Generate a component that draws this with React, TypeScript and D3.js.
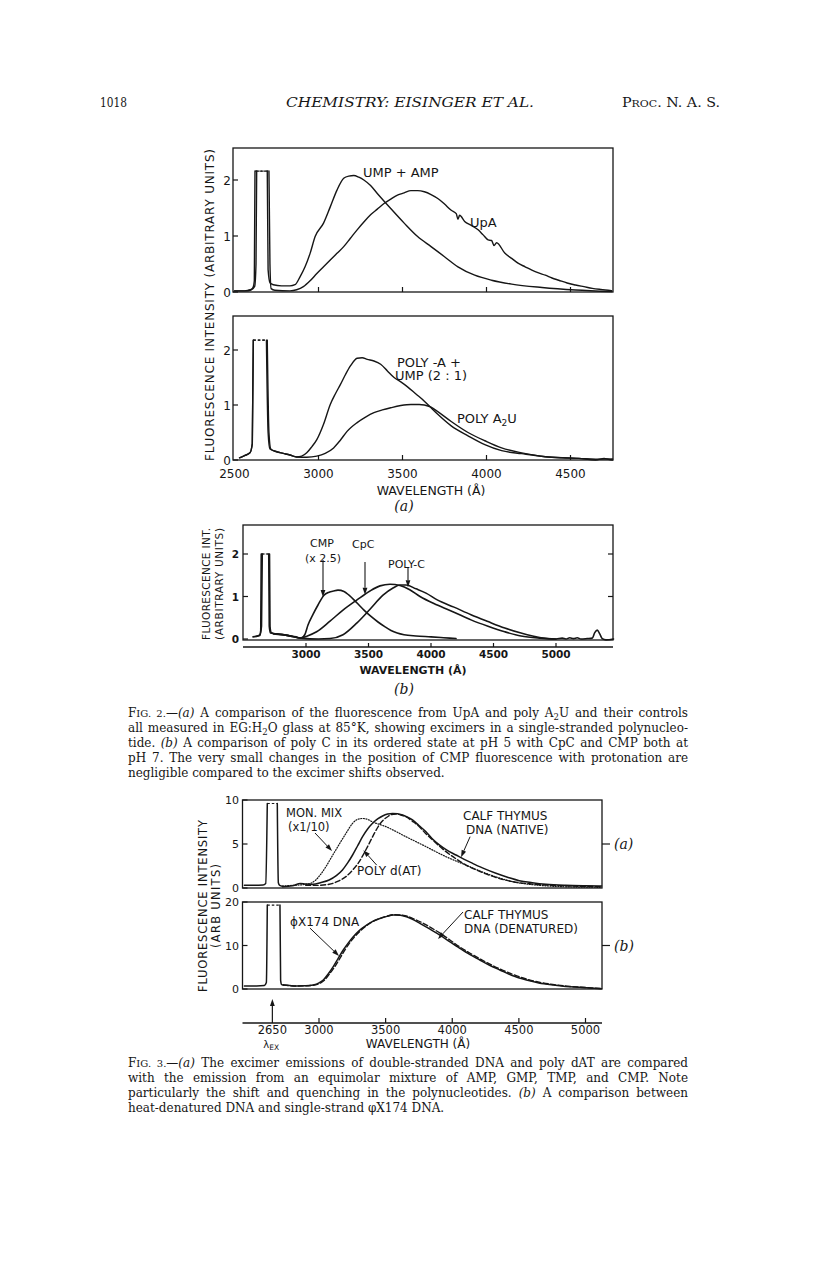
import React, { useLayoutEffect, useRef } from "react";
import * as d3 from "d3";

// ---------------- data (wavelength in Å, intensity in arbitrary units) ----------------
const G = NaN; // break: off-scale excitation peak (drawn with a dashed top)

// Fig. 2(a) upper panel
const umpAmpWl = [2500, 2560, 2595, 2610, 2618, 2622, G, 2695, 2700, 2712, 2731, 2780, 2830, 2860, 2890, 2920, 2950, 2980, 3030, 3070, 3110, 3150, 3180, 3210, 3240, 3270, 3310, 3350, 3430, 3510, 3590, 3670, 3750, 3830, 3930, 4030, 4150, 4330, 4530, 4745];
const umpAmpI = [0.02, 0.02, 0.04, 0.08, 0.2, 2.16, G, 2.16, 0.4, 0.16, 0.13, 0.11, 0.11, 0.13, 0.27, 0.45, 0.69, 0.99, 1.23, 1.52, 1.82, 2.03, 2.07, 2.08, 2.05, 2.0, 1.9, 1.76, 1.49, 1.23, 0.99, 0.81, 0.63, 0.45, 0.3, 0.21, 0.14, 0.08, 0.035, 0.006];
const upaWl = [2500, 2570, 2600, 2620, 2628, 2632, G, 2705, 2711, 2718, 2740, 2830, 2870, 2910, 2950, 2990, 3030, 3070, 3110, 3150, 3190, 3230, 3270, 3310, 3350, 3390, 3430, 3470, 3510, 3550, 3590, 3630, 3670, 3710, 3750, 3790, 3820, 3830, 3840, 3870, 3910, 3950, 3980, 4010, 4030, 4045, 4060, 4110, 4150, 4190, 4230, 4270, 4310, 4350, 4390, 4430, 4480, 4530, 4580, 4630, 4680, 4745];
const upaI = [0.02, 0.02, 0.04, 0.1, 0.5, 2.16, G, 2.16, 0.5, 0.06, 0.03, 0.02, 0.04, 0.095, 0.2, 0.33, 0.45, 0.57, 0.69, 0.81, 0.96, 1.11, 1.25, 1.38, 1.48, 1.58, 1.66, 1.73, 1.77, 1.81, 1.81, 1.79, 1.74, 1.67, 1.57, 1.46, 1.4, 1.3, 1.37, 1.26, 1.19, 1.11, 1.02, 0.93, 0.92, 0.83, 0.88, 0.69, 0.6, 0.51, 0.45, 0.39, 0.34, 0.3, 0.25, 0.21, 0.16, 0.125, 0.095, 0.065, 0.045, 0.024];

// Fig. 2(a) lower panel
const polyAUmpWl = [2530, 2560, 2592, 2606, 2612, G, 2695, 2705, 2716, 2751, 2790, 2830, 2870, 2900, 2930, 2960, 2990, 3030, 3070, 3100, 3130, 3160, 3190, 3230, 3260, 3290, 3330, 3370, 3410, 3450, 3490, 3530, 3580, 3630, 3670, 3710, 3790, 3890, 3990, 4090, 4210, 4350, 4450, 4550, 4650, 4750];
const polyAUmpI = [0.04, 0.08, 0.13, 0.3, 2.18, G, 2.18, 0.5, 0.2, 0.15, 0.12, 0.09, 0.055, 0.07, 0.13, 0.24, 0.37, 0.65, 1.01, 1.2, 1.37, 1.55, 1.71, 1.85, 1.86, 1.83, 1.8, 1.74, 1.62, 1.5, 1.42, 1.33, 1.2, 1.07, 0.95, 0.83, 0.62, 0.44, 0.28, 0.17, 0.115, 0.06, 0.04, 0.03, 0.015, 0.02];
const polyA2uWl = [2530, 2560, 2592, 2606, 2612, G, 2690, 2700, 2711, 2751, 2790, 2830, 2870, 2930, 2990, 3040, 3090, 3130, 3170, 3230, 3280, 3330, 3380, 3430, 3490, 3550, 3600, 3630, 3670, 3710, 3790, 3890, 3990, 4090, 4210, 4350, 4450, 4550, 4650, 4700, 4730, 4750];
const polyA2uI = [0.04, 0.08, 0.13, 0.3, 2.18, G, 2.18, 0.5, 0.2, 0.15, 0.12, 0.09, 0.055, 0.05, 0.07, 0.12, 0.22, 0.36, 0.52, 0.68, 0.78, 0.86, 0.91, 0.95, 0.99, 1.01, 1.01, 1.0, 0.96, 0.88, 0.7, 0.5, 0.35, 0.22, 0.13, 0.06, 0.04, 0.03, 0.0, 0.03, 0.01, 0.0];

// Fig. 2(b)
const cmpWl = [2576, 2610, 2630, 2638, 2642, G, 2708, 2712, 2722, 2740, 2800, 2860, 2920, 2960, 2990, 3016, 3056, 3096, 3144, 3184, 3220, 3256, 3304, 3344, 3384, 3424, 3464, 3520, 3576, 3630, 3680, 3730, 3784, 3880, 4000, 4100, 4200];
const cmpI = [0.05, 0.07, 0.1, 0.2, 2.0, G, 2.0, 0.3, 0.15, 0.13, 0.11, 0.08, 0.05, 0.02, 0.1, 0.33, 0.58, 0.8, 1.03, 1.1, 1.13, 1.15, 1.12, 1.03, 0.92, 0.8, 0.68, 0.53, 0.4, 0.29, 0.2, 0.14, 0.1, 0.07, 0.05, 0.03, 0.01];
const cpcWl = [2600, 2630, 2644, 2650, G, 2702, 2706, 2716, 2760, 2860, 2960, 3000, 3085, 3192, 3296, 3408, 3512, 3592, 3672, 3752, 3830, 3912, 4050, 4184, 4320, 4456, 4590, 4720, 4880, 5000];
const cpcI = [0.06, 0.08, 0.3, 2.0, G, 2.0, 0.3, 0.14, 0.12, 0.08, 0.02, 0.06, 0.17, 0.42, 0.68, 0.92, 1.13, 1.25, 1.29, 1.26, 1.16, 1.0, 0.8, 0.63, 0.45, 0.3, 0.17, 0.07, 0.02, 0.0];
const polyCWl = [2740, 2860, 2960, 3100, 3192, 3296, 3408, 3512, 3616, 3696, 3752, 3800, 3880, 3960, 4050, 4184, 4320, 4456, 4590, 4720, 4880, 5000, 5050, 5080, 5110, 5140, 5170, 5200, 5250, 5290, 5310, 5330, 5350, 5370, 5400, 5460];
const polyCI = [0.12, 0.08, 0.02, 0.0, 0.01, 0.1, 0.38, 0.7, 1.03, 1.2, 1.27, 1.27, 1.18, 1.08, 0.92, 0.75, 0.57, 0.41, 0.26, 0.14, 0.03, 0.0, 0.02, 0.0, 0.03, 0.01, 0.03, 0.0, 0.01, 0.02, 0.15, 0.21, 0.12, 0.01, -0.02, 0.0];

// Fig. 3(a)
const excA3Wl = [2440, 2500, 2580, 2600, 2612, G, 2687, 2695, 2705, 2726];
const excA3I = [0.3, 0.3, 0.33, 0.5, 9.6, G, 9.6, 0.6, 0.3, 0.2];
const monMixWl = [2726, 2800, 2901, 2940, 2976, 3010, 3051, 3090, 3126, 3165, 3202, 3252, 3290, 3327, 3365, 3402, 3450, 3502, 3580, 3652, 3730, 3803, 3880, 3953, 4030, 4103, 4180, 4253, 4330, 4403, 4490, 4578, 4700, 4829, 4950, 5110];
const monMixI = [0.23, 0.3, 0.42, 0.55, 0.91, 1.5, 2.4, 3.4, 4.32, 5.3, 6.2, 7.35, 7.8, 7.9, 7.8, 7.5, 7.25, 6.97, 6.4, 5.83, 5.25, 4.7, 4.1, 3.56, 3.05, 2.61, 2.1, 1.67, 1.25, 0.91, 0.6, 0.42, 0.25, 0.15, 0.1, 0.08];
const ctNativeWl = [2726, 2800, 2860, 2900, 2957, 3010, 3076, 3130, 3176, 3215, 3252, 3290, 3327, 3365, 3402, 3440, 3477, 3515, 3552, 3590, 3627, 3665, 3702, 3750, 3803, 3850, 3903, 3960, 4028, 4090, 4153, 4240, 4328, 4420, 4503, 4600, 4703, 4850, 5000, 5120];
const ctNativeI = [0.15, 0.25, 0.5, 0.45, 0.42, 0.6, 0.91, 1.4, 2.05, 2.85, 3.75, 4.8, 5.83, 6.7, 7.35, 7.85, 8.18, 8.4, 8.48, 8.45, 8.3, 8.05, 7.73, 7.1, 6.4, 5.6, 4.9, 4.3, 3.75, 3.25, 2.8, 2.2, 1.67, 1.2, 0.83, 0.6, 0.42, 0.3, 0.25, 0.23];
const polyDatWl = [2900, 2980, 3076, 3140, 3202, 3250, 3302, 3340, 3377, 3415, 3452, 3485, 3515, 3545, 3577, 3615, 3652, 3700, 3753, 3800, 3853, 3900, 3953, 4030, 4103, 4180, 4253, 4350, 4453, 4580, 4703, 4900, 5110];
const polyDatI = [0.3, 0.3, 0.42, 0.75, 1.29, 2.0, 2.99, 4.0, 5.07, 6.2, 7.16, 7.75, 8.1, 8.35, 8.4, 8.3, 8.1, 7.6, 6.97, 6.2, 5.45, 4.8, 4.13, 3.3, 2.61, 2.05, 1.6, 1.1, 0.72, 0.48, 0.34, 0.22, 0.15];

// Fig. 3(b)
const excB3Wl = [2440, 2532, 2590, 2605, 2612, G, 2707, 2712, 2720, 2732];
const excB3I = [0.7, 0.69, 0.8, 1.5, 19.3, G, 19.3, 2.0, 1.0, 0.92];
const phiXWl = [2732, 2780, 2832, 2900, 2957, 3000, 3032, 3070, 3107, 3145, 3182, 3220, 3257, 3300, 3357, 3400, 3457, 3510, 3557, 3610, 3657, 3710, 3757, 3830, 3907, 3980, 4057, 4130, 4207, 4280, 4357, 4450, 4557, 4650, 4757, 4850, 4957, 5050, 5120];
const phiXI = [0.92, 0.8, 0.69, 0.72, 0.92, 1.4, 2.07, 3.5, 5.13, 7.1, 8.97, 10.6, 12.03, 13.4, 14.7, 15.5, 16.2, 16.7, 17.0, 16.95, 16.6, 15.9, 15.1, 13.8, 12.4, 10.9, 9.35, 7.95, 6.67, 5.45, 4.37, 3.1, 2.07, 1.4, 0.92, 0.6, 0.38, 0.2, 0.05];
const ctDenWl = [2732, 2832, 2957, 3000, 3040, 3080, 3120, 3160, 3195, 3235, 3270, 3315, 3367, 3410, 3465, 3520, 3565, 3615, 3665, 3720, 3770, 3840, 3915, 3990, 4065, 4140, 4215, 4290, 4365, 4460, 4565, 4660, 4765, 4860, 4960, 5050, 5120];
const ctDenI = [0.92, 0.7, 0.85, 1.2, 2.0, 3.5, 5.2, 7.2, 9.0, 10.8, 12.1, 13.5, 14.8, 15.6, 16.3, 16.85, 17.1, 17.0, 16.7, 16.0, 15.3, 14.1, 12.7, 11.1, 9.5, 8.1, 6.8, 5.6, 4.5, 3.3, 2.2, 1.5, 1.0, 0.65, 0.42, 0.25, 0.1];

// tick values
const fig2aXTicks = [2500, 3000, 3500, 4000, 4500];
const fig2aYTicks = [0, 1, 2];
const fig2bXTicks = [3000, 3500, 4000, 4500, 5000];
const fig2bYTicks = [0, 1, 2];
const fig3XTicks = [3000, 3500, 4000, 4500, 5000];
const fig3aYTicks = [0, 5, 10];
const fig3bYTicks = [0, 10, 20];
const excitationWl = 2650;

// annotation arrows [λ, I] -> [λ, I]
const arrows2b: [number, number, number, number][] = [[3136, 1.86, 3136, 0.99], [3472, 1.81, 3472, 1.04], [3816, 1.67, 3816, 1.22]];
const arrows3a: [number, number, number, number][] = [[2970, 6.25, 3098, 4.2], [4134, 5.83, 4066, 3.5], [3433, 2.6, 3333, 4.3]];
const arrows3b: [number, number, number, number][] = [[2932, 14.0, 3150, 7.6], [4081, 17.7, 3893, 11.5]];

// captions
const cap2 = [
  ["FIG. 2.—", "(a)", " A comparison of the fluorescence from UpA and poly A", "2", "U and their controls"],
  ["all measured in EG:H", "2", "O glass at 85°K, showing excimers in a single-stranded polynucleo-"],
  ["tide. ", "(b)", " A comparison of poly C in its ordered state at pH 5 with CpC and CMP both at"],
  ["pH 7. The very small changes in the position of CMP fluorescence with protonation are"],
  ["negligible compared to the excimer shifts observed."],
];
const cap3 = [
  ["FIG. 3.—", "(a)", " The excimer emissions of double-stranded DNA and poly dAT are compared"],
  ["with the emission from an equimolar mixture of AMP, GMP, TMP, and CMP. Note"],
  ["particularly the shift and quenching in the polynucleotides. ", "(b)", " A comparison between"],
  ["heat-denatured DNA and single-strand ", "φ", "X174 DNA."],
];

// ---------------- drawing ----------------
type P = [number, number];
const SANS = "'DejaVu Sans', sans-serif";
const SERIF = "'DejaVu Serif', serif";
const INK = "#161616";

const zip = (w: number[], v: number[]): P[] => w.map((x, i) => [x, v[i]]);

function Spectrum({ wl, iv, x, y, sw = 1.5, dash }: any) {
  const pts = zip(wl, iv);
  const line = d3
    .line<P>()
    .defined((d) => !isNaN(d[1]))
    .x((d) => x(d[0]))
    .y((d) => y(d[1]))
    .curve(d3.curveMonotoneX);
  const tops: [P, P][] = [];
  pts.forEach((d, i) => {
    if (isNaN(d[1]) && i > 0 && i < pts.length - 1) tops.push([pts[i - 1], pts[i + 1]]);
  });
  return (
    <g>
      <path d={line(pts) || ""} fill="none" stroke={INK} strokeWidth={sw} strokeDasharray={dash} strokeLinejoin="round" strokeLinecap="round" />
      {tops.map((t, j) => (
        <line key={j} x1={x(t[0][0])} y1={y(t[0][1])} x2={x(t[1][0])} y2={y(t[1][1])} stroke={INK} strokeWidth={1.2} strokeDasharray="2.5,2" />
      ))}
    </g>
  );
}

function Arrow({ x1, y1, x2, y2, sw = 1 }: any) {
  const a = Math.atan2(y2 - y1, x2 - x1);
  const L = 7, W = 2.4;
  const bx = x2 - L * Math.cos(a), by = y2 - L * Math.sin(a);
  const px = -Math.sin(a) * W, py = Math.cos(a) * W;
  return (
    <g>
      <line x1={x1} y1={y1} x2={bx} y2={by} stroke={INK} strokeWidth={sw} />
      <path d={`M${x2},${y2}L${bx + px},${by + py}L${bx - px},${by - py}Z`} fill={INK} />
    </g>
  );
}

function CapLine({ parts, x, y, w }: { parts: string[]; x: number; y: number; w?: number }) {
  const kids: any[] = [];
  parts.forEach((p, i) => {
    if (p.startsWith("FIG.")) {
      kids.push(<tspan key={i + "a"}>F</tspan>);
      kids.push(<tspan key={i + "b"} fontSize={10}>{"IG." + p.slice(4, p.indexOf("—"))}</tspan>);
      kids.push(<tspan key={i + "c"}>{p.slice(p.indexOf("—"))}</tspan>);
    } else if (p === "(a)" || p === "(b)") kids.push(<tspan key={i} fontStyle="italic">{p}</tspan>);
    else if (p === "2") kids.push(<tspan key={i} fontSize={8.5} dy={3}>{p}</tspan>);
    else {
      const prev = parts[i - 1];
      kids.push(<tspan key={i} dy={prev === "2" ? -3 : 0}>{p}</tspan>);
    }
  });
  return (
    <text x={x} y={y} fontFamily={SERIF} fontSize={12} fill={INK} data-w={w} style={{ whiteSpace: "pre" }}>
      {kids}
    </text>
  );
}

export default function App() {
  const ref = useRef<SVGSVGElement>(null);

  useLayoutEffect(() => {
    const svg = ref.current;
    if (!svg) return;
    svg.querySelectorAll<SVGTextElement>("text[data-w]").forEach((t) => {
      const target = +(t.getAttribute("data-w") || 0);
      if (!target) return;
      t.style.wordSpacing = "0px";
      const nat = t.getComputedTextLength();
      const spaces = (t.textContent || "").split(" ").length - 1;
      if (spaces > 0) t.style.wordSpacing = (target - nat) / spaces + "px";
    });
  }, []);

  // scales
  const x2a = d3.scaleLinear().domain([2500, 4500]).range([234.5, 570.5]);
  const y2aT = d3.scaleLinear().domain([0, 2]).range([292, 180]);
  const y2aB = d3.scaleLinear().domain([0, 2]).range([460, 350]);
  const x2b = d3.scaleLinear().domain([3000, 5000]).range([306, 556]);
  const y2b = d3.scaleLinear().domain([0, 2]).range([639, 554]);
  const x3 = d3.scaleLinear().domain([3000, 5000]).range([319, 585.5]);
  const y3a = d3.scaleLinear().domain([0, 10]).range([888, 800]);
  const y3b = d3.scaleLinear().domain([0, 20]).range([989, 902]);

  const fr2a = { l: 233, r: 613 };
  const fr2b = { l: 243, r: 613, t: 525 };
  const fr3 = { l: 242.5, r: 602 };

  const tickLab = (v: number) => String(v);

  return (
    <svg ref={ref} width={816} height={1272} viewBox="0 0 816 1272" style={{ position: "absolute", left: 0, top: 0, background: "#fff" }}>
      <rect width={816} height={1272} fill="#fff" />
      {/* running header */}
      <text x={100} y={107} fontFamily={SERIF} fontSize={13} fill={INK} textLength={27} lengthAdjust="spacingAndGlyphs">1018</text>
      <text x={286} y={107} fontFamily={SERIF} fontSize={13} fontStyle="italic" fill={INK} textLength={248} lengthAdjust="spacingAndGlyphs">CHEMISTRY:  EISINGER ET AL.</text>
      <text x={622} y={107} fontFamily={SERIF} fontSize={13} fill={INK} textLength={98} lengthAdjust="spacingAndGlyphs">
        P<tspan fontSize={10}>ROC</tspan>. N. A. S.
      </text>

      {/* ================= FIG 2(a) upper ================= */}
      <g>
        <rect x={fr2a.l} y={148} width={fr2a.r - fr2a.l} height={y2aT(0) - 148} fill="none" stroke={INK} strokeWidth={1.3} />
        {fig2aYTicks.map((t) => (
          <g key={t}>
            <line x1={fr2a.l} x2={fr2a.l + 5} y1={y2aT(t)} y2={y2aT(t)} stroke={INK} strokeWidth={1.2} />
            <text x={231} y={y2aT(t) + 4.5} textAnchor="end" fontFamily={SANS} fontSize={12} fill={INK}>{tickLab(t)}</text>
          </g>
        ))}
        {fig2aXTicks.slice(1).map((t) => (
          <line key={t} x1={x2a(t)} x2={x2a(t)} y1={y2aT(0)} y2={y2aT(0) - 5} stroke={INK} strokeWidth={1.2} />
        ))}
        <Spectrum wl={umpAmpWl} iv={umpAmpI} x={x2a} y={y2aT} sw={1.4} />
        <Spectrum wl={upaWl} iv={upaI} x={x2a} y={y2aT} sw={1.4} />
        <text x={363} y={177} fontFamily={SANS} fontSize={13} fill={INK}>UMP + AMP</text>
        <text x={470} y={227} fontFamily={SANS} fontSize={13} fill={INK}>UpA</text>
      </g>

      {/* ================= FIG 2(a) lower ================= */}
      <g>
        <rect x={fr2a.l} y={316} width={fr2a.r - fr2a.l} height={y2aB(0) - 316} fill="none" stroke={INK} strokeWidth={1.3} />
        {fig2aYTicks.map((t) => (
          <g key={t}>
            <line x1={fr2a.l} x2={fr2a.l + 5} y1={y2aB(t)} y2={y2aB(t)} stroke={INK} strokeWidth={1.2} />
            <text x={231} y={y2aB(t) + 4.5} textAnchor="end" fontFamily={SANS} fontSize={12} fill={INK}>{tickLab(t)}</text>
          </g>
        ))}
        {fig2aXTicks.map((t) => (
          <g key={t}>
            {t > 2500 && <line x1={x2a(t)} x2={x2a(t)} y1={y2aB(0)} y2={y2aB(0) - 5} stroke={INK} strokeWidth={1.2} />}
            <text x={x2a(t)} y={478} textAnchor="middle" fontFamily={SANS} fontSize={12} fill={INK}>{tickLab(t)}</text>
          </g>
        ))}
        <Spectrum wl={polyAUmpWl} iv={polyAUmpI} x={x2a} y={y2aB} sw={1.4} />
        <Spectrum wl={polyA2uWl} iv={polyA2uI} x={x2a} y={y2aB} sw={1.4} />
        <text x={397} y={367} fontFamily={SANS} fontSize={13} fill={INK}>POLY -A +</text>
        <text x={395} y={380} fontFamily={SANS} fontSize={13} fill={INK}>UMP (2 : 1)</text>
        <text x={457} y={423} fontFamily={SANS} fontSize={13} fill={INK}>
          POLY A<tspan fontSize={9} dy={3}>2</tspan><tspan dy={-3}>U</tspan>
        </text>
        <text x={431} y={495} textAnchor="middle" fontFamily={SANS} fontSize={12.5} fill={INK}>WAVELENGTH (Å)</text>
        <text x={404} y={511} textAnchor="middle" fontFamily={SERIF} fontSize={14} fontStyle="italic" fill={INK}>(a)</text>
        <text transform="translate(213.5,305) rotate(-90)" textAnchor="middle" fontFamily={SANS} fontSize={12} fill={INK} textLength={312} lengthAdjust="spacing">
          FLUORESCENCE INTENSITY (ARBITRARY UNITS)
        </text>
      </g>

      {/* ================= FIG 2(b) ================= */}
      <g>
        <rect x={fr2b.l} y={fr2b.t} width={fr2b.r - fr2b.l} height={y2b(0) + 1 - fr2b.t} fill="none" stroke={INK} strokeWidth={1.3} />
        {fig2bYTicks.map((t) => (
          <g key={t}>
            <line x1={fr2b.l} x2={fr2b.l + 5} y1={y2b(t)} y2={y2b(t)} stroke={INK} strokeWidth={1.2} />
            {t > 0 && <line x1={fr2b.r} x2={fr2b.r - 5} y1={y2b(t)} y2={y2b(t)} stroke={INK} strokeWidth={1.2} />}
            <text x={239} y={y2b(t) + 4} textAnchor="end" fontFamily={SANS} fontSize={10.5} fontWeight="bold" fill={INK}>{tickLab(t)}</text>
          </g>
        ))}
        <line x1={fr2b.l} x2={fr2b.r} y1={647} y2={647} stroke={INK} strokeWidth={1.3} />
        {fig2bXTicks.map((t) => (
          <g key={t}>
            <line x1={x2b(t)} x2={x2b(t)} y1={647} y2={643} stroke={INK} strokeWidth={1.2} />
            <text x={x2b(t)} y={658} textAnchor="middle" fontFamily={SANS} fontSize={10.5} fontWeight="bold" fill={INK}>{tickLab(t)}</text>
          </g>
        ))}
        <Spectrum wl={cmpWl} iv={cmpI} x={x2b} y={y2b} sw={1.6} />
        <Spectrum wl={cpcWl} iv={cpcI} x={x2b} y={y2b} sw={1.6} />
        <Spectrum wl={polyCWl} iv={polyCI} x={x2b} y={y2b} sw={1.6} />
        {arrows2b.map((a, i) => (
          <Arrow key={i} x1={x2b(a[0])} y1={y2b(a[1])} x2={x2b(a[2])} y2={y2b(a[3])} sw={1.1} />
        ))}
        <text x={310} y={547} fontFamily={SANS} fontSize={11} fill={INK}>CMP</text>
        <text x={305} y={562} fontFamily={SANS} fontSize={11} fill={INK}>(x 2.5)</text>
        <text x={352} y={548} fontFamily={SANS} fontSize={11} fill={INK}>CpC</text>
        <text x={388} y={568} fontFamily={SANS} fontSize={11} fill={INK}>POLY-C</text>
        <text x={413} y={674} textAnchor="middle" fontFamily={SANS} fontSize={11} fontWeight="bold" fill={INK}>WAVELENGTH (Å)</text>
        <text x={404} y={694} textAnchor="middle" fontFamily={SERIF} fontSize={14} fontStyle="italic" fill={INK}>(b)</text>
        <text transform="translate(210,584) rotate(-90)" textAnchor="middle" fontFamily={SANS} fontSize={10.5} fill={INK} textLength={112} lengthAdjust="spacing">FLUORESCENCE INT.</text>
        <text transform="translate(223,584) rotate(-90)" textAnchor="middle" fontFamily={SANS} fontSize={10.5} fill={INK} textLength={112} lengthAdjust="spacing">(ARBITRARY UNITS)</text>
      </g>

      {/* caption Fig 2 */}
      {cap2.map((p, i) => (
        <CapLine key={i} parts={p} x={128} y={717 + i * 15} w={i < cap2.length - 1 ? 560 : undefined} />
      ))}

      {/* ================= FIG 3(a) ================= */}
      <g>
        <rect x={fr3.l} y={800} width={fr3.r - fr3.l} height={88} fill="none" stroke={INK} strokeWidth={1.3} />
        {fig3aYTicks.map((t) => (
          <g key={t}>
            <line x1={fr3.l} x2={fr3.l + 5} y1={y3a(t)} y2={y3a(t)} stroke={INK} strokeWidth={1.2} />
            <text x={239} y={y3a(t) + 4} textAnchor="end" fontFamily={SANS} fontSize={11} fill={INK}>{tickLab(t)}</text>
          </g>
        ))}
        <line x1={fr3.r} x2={fr3.r + 8} y1={y3a(5)} y2={y3a(5)} stroke={INK} strokeWidth={1.2} />
        <text x={614} y={y3a(5) + 5} fontFamily={SERIF} fontSize={14} fontStyle="italic" fill={INK}>(a)</text>
        <Spectrum wl={excA3Wl} iv={excA3I} x={x3} y={y3a} sw={1.5} />
        <Spectrum wl={monMixWl} iv={monMixI} x={x3} y={y3a} sw={1.2} dash="1,1.6" />
        <Spectrum wl={polyDatWl} iv={polyDatI} x={x3} y={y3a} sw={1.4} dash="5,2.5" />
        <Spectrum wl={ctNativeWl} iv={ctNativeI} x={x3} y={y3a} sw={1.5} />
        {arrows3a.map((a, i) => (
          <Arrow key={i} x1={x3(a[0])} y1={y3a(a[1])} x2={x3(a[2])} y2={y3a(a[3])} sw={1} />
        ))}
        <text x={286} y={817} fontFamily={SANS} fontSize={11.5} fill={INK}>MON. MIX</text>
        <text x={288} y={831} fontFamily={SANS} fontSize={11.5} fill={INK}>(x1/10)</text>
        <text x={463} y={820} fontFamily={SANS} fontSize={12} fill={INK}>CALF THYMUS</text>
        <text x={466} y={834} fontFamily={SANS} fontSize={12} fill={INK}>DNA (NATIVE)</text>
        <text x={357} y={875} fontFamily={SANS} fontSize={12} fill={INK}>POLY d(AT)</text>
      </g>

      {/* ================= FIG 3(b) ================= */}
      <g>
        <rect x={fr3.l} y={902} width={fr3.r - fr3.l} height={87} fill="none" stroke={INK} strokeWidth={1.3} />
        {fig3bYTicks.map((t) => (
          <g key={t}>
            <line x1={fr3.l} x2={fr3.l + 5} y1={y3b(t)} y2={y3b(t)} stroke={INK} strokeWidth={1.2} />
            <text x={239} y={y3b(t) + 4} textAnchor="end" fontFamily={SANS} fontSize={11} fill={INK}>{tickLab(t)}</text>
          </g>
        ))}
        <line x1={fr3.r} x2={fr3.r + 8} y1={y3b(10)} y2={y3b(10)} stroke={INK} strokeWidth={1.2} />
        <text x={614} y={y3b(10) + 5} fontFamily={SERIF} fontSize={14} fontStyle="italic" fill={INK}>(b)</text>
        <Spectrum wl={excB3Wl} iv={excB3I} x={x3} y={y3b} sw={1.5} />
        <Spectrum wl={ctDenWl} iv={ctDenI} x={x3} y={y3b} sw={1.4} dash="5,2.5" />
        <Spectrum wl={phiXWl} iv={phiXI} x={x3} y={y3b} sw={1.5} />
        {arrows3b.map((a, i) => (
          <Arrow key={i} x1={x3(a[0])} y1={y3b(a[1])} x2={x3(a[2])} y2={y3b(a[3])} sw={1} />
        ))}
        <text x={290} y={926} fontFamily={SANS} fontSize={12} fill={INK}>ϕX174 DNA</text>
        <text x={464} y={919} fontFamily={SANS} fontSize={12} fill={INK}>CALF THYMUS</text>
        <text x={464} y={933} fontFamily={SANS} fontSize={12} fill={INK}>DNA (DENATURED)</text>
      </g>

      {/* FIG 3 axis */}
      <g>
        <line x1={fr3.l} x2={fr3.r} y1={1023} y2={1023} stroke={INK} strokeWidth={1.3} />
        {fig3XTicks.map((t) => (
          <g key={t}>
            <line x1={x3(t)} x2={x3(t)} y1={1023} y2={1018} stroke={INK} strokeWidth={1.2} />
            <text x={x3(t)} y={1034} textAnchor="middle" fontFamily={SANS} fontSize={11.5} fill={INK}>{tickLab(t)}</text>
          </g>
        ))}
        <Arrow x1={x3(excitationWl)} y1={1023} x2={x3(excitationWl)} y2={999} sw={1.2} />
        <text x={x3(excitationWl)} y={1034} textAnchor="middle" fontFamily={SANS} fontSize={11.5} fill={INK}>{excitationWl}</text>
        <text x={x3(excitationWl) - 9} y={1048} fontFamily={SANS} fontSize={10} fill={INK}>
          λ<tspan fontSize={7.5} dy={1.5}>EX</tspan>
        </text>
        <text x={418} y={1048} textAnchor="middle" fontFamily={SANS} fontSize={12} fill={INK}>WAVELENGTH (Å)</text>
        <text transform="translate(207,906) rotate(-90)" textAnchor="middle" fontFamily={SANS} fontSize={11.5} fill={INK} textLength={172} lengthAdjust="spacing">FLUORESCENCE INTENSITY</text>
        <text transform="translate(220,906) rotate(-90)" textAnchor="middle" fontFamily={SANS} fontSize={11.5} fill={INK} textLength={84} lengthAdjust="spacing">(ARB UNITS)</text>
      </g>

      {/* caption Fig 3 */}
      {cap3.map((p, i) => (
        <CapLine key={i} parts={p} x={128} y={1067 + i * 15} w={i < cap3.length - 1 ? 560 : undefined} />
      ))}
    </svg>
  );
}
